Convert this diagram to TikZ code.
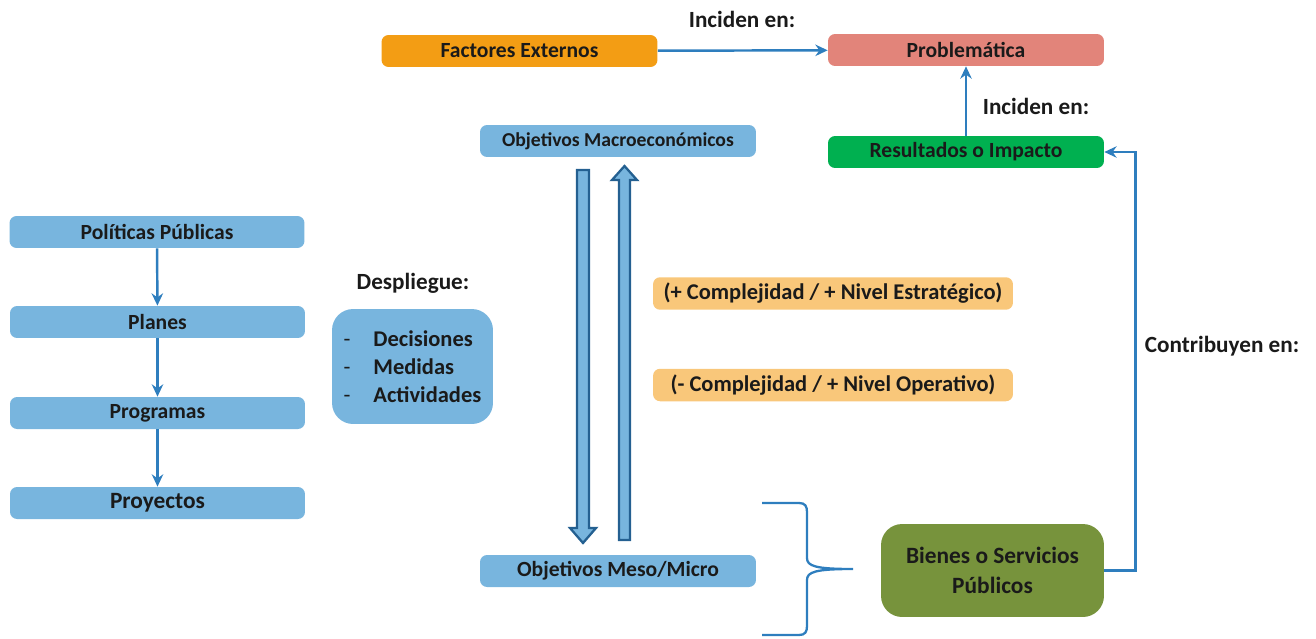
\documentclass[tikz,border=0pt]{standalone}
\usepackage{fontspec}
\setmainfont{Carlito}
\usetikzlibrary{arrows.meta,positioning,calc}

\definecolor{boxBlue}{RGB}{120,181,222}
\definecolor{boxOrange}{RGB}{243,157,20}
\definecolor{boxRed}{RGB}{226,132,122}
\definecolor{boxGreen}{RGB}{0,176,80}
\definecolor{boxOlive}{RGB}{119,147,60}
\definecolor{boxPeach}{RGB}{249,199,122}
\definecolor{lineBlue}{RGB}{46,126,190}
\definecolor{blockEdge}{RGB}{36,96,145}
\definecolor{txt}{RGB}{26,26,26}

\begin{document}
\begin{tikzpicture}[
    x=0.02cm, y=-0.02cm,
    font=\fontsize{12.3pt}{14pt}\selectfont\bfseries,
    text=txt,
    >=Stealth,
    flatBox/.style={
        rectangle,
        fill=boxBlue,
        rounded corners=4pt,
        align=center,
        inner sep=0pt,
        minimum width=5.9cm,
        minimum height=0.64cm
    },
    wideBox/.style={
        flatBox,
        minimum width=5.52cm
    },
    peachBox/.style={
        flatBox,
        fill=boxPeach,
        minimum width=7.2cm,
        minimum height=0.65cm,
        font=\fontsize{12.8pt}{14pt}\selectfont\bfseries
    },
    roundBox/.style={
        rectangle,
        rounded corners=12pt,
        align=center,
        inner sep=0pt
    },
    labelText/.style={
        font=\fontsize{13.2pt}{15pt}\selectfont\bfseries
    },
    flowArrow/.style={
        draw=lineBlue,
        line width=1.4pt,
        -{Stealth[length=7pt,width=6.5pt]}
    },
    blockArrow/.style={
        draw=blockEdge,
        fill=boxBlue,
        line width=1.3pt,
        line join=miter
    }
]
\useasboundingbox (0,0) rectangle (1316,639);

% ==================== TOP ROW ====================
\node[wideBox, fill=boxOrange] (factores) at (519.5, 51) {Factores Externos};
\node[wideBox, fill=boxRed] (problema) at (966, 50) {Problemática};
\node[labelText] (incidenA) at (742, 19) {Inciden en:};

\node[wideBox, font=\fontsize{11.2pt}{13pt}\selectfont\bfseries] (macro) at (618, 141) {Objetivos Macroeconómicos};
\node[wideBox, fill=boxGreen] (resultados) at (966, 152) {Resultados o Impacto};
\node[labelText] (incidenB) at (1036, 106) {Inciden en:};

% ==================== LEFT COLUMN ====================
\node[flatBox] (politicas) at (157, 232) {Políticas Públicas};
\node[flatBox] (planes) at (157.5, 322) {Planes};
\node[flatBox] (programas) at (157.5, 413) {Programas};
\node[flatBox, font=\fontsize{13.3pt}{15pt}\selectfont\bfseries] (proyectos) at (157.5, 503) {Proyectos};

\node[labelText] (despliegue) at (413, 283) {Despliegue:};
\node[roundBox, fill=boxBlue, minimum width=3.22cm, minimum height=2.3cm,
      font=\fontsize{12.8pt}{16pt}\selectfont\bfseries, align=left] (acciones) at (412.5, 366.5)
    {\mdseries-\hspace{13pt}\bfseries Decisiones\\\mdseries-\hspace{13pt}\bfseries Medidas\\\mdseries-\hspace{13pt}\bfseries Actividades};

% ==================== CENTRE ====================
\node[peachBox] (estrategico) at (833, 293.5) {(+ Complejidad / + Nivel Estratégico)};
\node[peachBox] (operativo) at (833, 385) {(- Complejidad / + Nivel Operativo)};

\node[wideBox] (meso) at (618, 571) {Objetivos Meso/Micro};

% Block arrows between objective levels
\draw[blockArrow] (577,170) -- (589,170) -- (589,528) -- (596,528) -- (583,543)
    -- (570,528) -- (577,528) -- cycle;
\draw[blockArrow] (619,540) -- (630,540) -- (630,180) -- (637,180) -- (624.5,166)
    -- (612,180) -- (619,180) -- cycle;

% ==================== RIGHT SIDE ====================
\node[roundBox, fill=boxOlive, minimum width=4.46cm, minimum height=1.86cm,
      font=\fontsize{13.3pt}{17pt}\selectfont\bfseries] (bienes) at (992.5, 570.5)
    {Bienes o Servicios\\Públicos};
\node[labelText] (contribuyen) at (1222, 346) {Contribuyen en:};

% Brace grouping the operational level
\draw[lineBlue, line width=1.3pt]
    (762,503) -- (799,503) .. controls (805,503) and (807,506) .. (807,512)
    -- (807,558) .. controls (807,566) and (815,569) .. (853,569)
    .. controls (815,569) and (807,572) .. (807,580)
    -- (807,626) .. controls (807,632) and (805,635) .. (799,635) -- (762,635);

% ==================== CONNECTORS ====================
\draw[flowArrow] (politicas) -- (planes);
\draw[flowArrow] (planes) -- (programas);
\draw[flowArrow] (programas) -- (proyectos);
\draw[flowArrow] (factores) -- (problema);
\draw[flowArrow] (resultados) -- (problema);
\draw[flowArrow] (bienes.east) -- ++(31,0) |- (resultados.east);

\end{tikzpicture}
\end{document}
